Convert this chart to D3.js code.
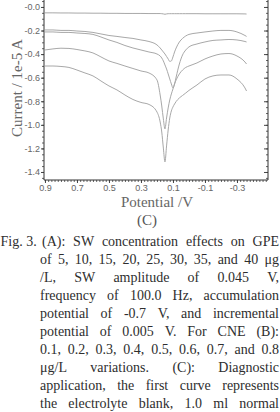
<!DOCTYPE html>
<html><head><meta charset="utf-8">
<script src="https://cdn.jsdelivr.net/npm/d3@7"></script>
<style>html,body{margin:0;padding:0;background:#fff;overflow:hidden}svg{display:block}</style>
</head><body>
<svg id="c" width="280" height="412"></svg>
<script>
// ---- data ----
const potential = [0.90,0.85,0.80,0.75,0.70,0.65,0.60,0.55,0.50,0.45,0.40,0.35,0.30,0.25,0.20,0.18,0.17,0.16,0.15,0.14,0.13,0.12,0.11,0.10,0.09,0.08,0.06,0.04,0.02,0.00,-0.05,-0.10,-0.15,-0.20,-0.25,-0.30,-0.35,-0.36];
const blank  = [-0.050,-0.050,-0.051,-0.051,-0.052,-0.052,-0.053,-0.053,-0.054,-0.054,-0.055,-0.055,-0.055,-0.056,-0.056,-0.056,-0.057,-0.059,-0.062,-0.059,-0.057,-0.057,-0.057,-0.057,-0.057,-0.057,-0.057,-0.057,-0.057,-0.057,-0.057,-0.058,-0.058,-0.058,-0.058,-0.058,-0.059,-0.060];
const sample1 = [-0.195,-0.195,-0.199,-0.199,-0.204,-0.208,-0.216,-0.229,-0.242,-0.250,-0.259,-0.267,-0.280,-0.293,-0.322,-0.348,-0.365,-0.382,-0.399,-0.420,-0.441,-0.462,-0.458,-0.424,-0.382,-0.348,-0.297,-0.267,-0.246,-0.233,-0.221,-0.212,-0.204,-0.199,-0.199,-0.212,-0.242,-0.250];
const sample2 = [-0.212,-0.212,-0.216,-0.216,-0.221,-0.225,-0.233,-0.255,-0.280,-0.301,-0.327,-0.348,-0.365,-0.382,-0.399,-0.416,-0.433,-0.458,-0.492,-0.526,-0.568,-0.611,-0.653,-0.687,-0.653,-0.594,-0.484,-0.407,-0.365,-0.339,-0.314,-0.297,-0.284,-0.280,-0.276,-0.280,-0.293,-0.297];
const sample3 = [-0.365,-0.356,-0.350,-0.352,-0.361,-0.373,-0.390,-0.424,-0.458,-0.479,-0.501,-0.522,-0.543,-0.560,-0.619,-0.747,-0.840,-0.950,-1.035,-0.942,-0.857,-0.789,-0.738,-0.696,-0.653,-0.619,-0.568,-0.535,-0.513,-0.501,-0.475,-0.441,-0.416,-0.399,-0.395,-0.416,-0.467,-0.484];
const sample4 = [-0.501,-0.501,-0.505,-0.513,-0.535,-0.560,-0.585,-0.628,-0.670,-0.704,-0.747,-0.785,-0.810,-0.827,-0.891,-0.976,-1.061,-1.197,-1.315,-1.179,-1.044,-0.942,-0.882,-0.848,-0.823,-0.802,-0.772,-0.751,-0.730,-0.708,-0.662,-0.611,-0.585,-0.577,-0.577,-0.611,-0.687,-0.713];
const xTicks = [0.9,0.7,0.5,0.3,0.1,-0.1,-0.3];
const xTickLabels = ["0.9","0.7","0.5","0.3","0.1","-0.1","-0.3"];
const yTicks = [0,-0.2,-0.4,-0.6,-0.8,-1.0,-1.2,-1.4];
const yTickLabels = ["-0.0","-0.2","-0.4","-0.6","-0.8","-1.0","-1.2","-1.4"];
const xTitle = "Potential /V";
const yTitle = "Current / 1e-5 A";
const panelLabel = "(C)";
const captionLead = "Fig. 3.";
const captionLines = [
  "(A): SW concentration effects on GPE",
  "of 5, 10, 15, 20, 25, 30, 35, and 40 μg",
  "/L, SW amplitude of 0.045 V,",
  "frequency of 100.0 Hz, accumulation",
  "potential of -0.7 V, and incremental",
  "potential of 0.005 V. For CNE (B):",
  "0.1, 0.2, 0.3, 0.4, 0.5, 0.6, 0.7, and 0.8",
  "μg/L variations. (C): Diagnostic",
  "application, the first curve represents",
  "the electrolyte blank, 1.0 ml normal"
];

// ---- chart ----
const svg = d3.select("#c");
const L = 44, R = 268, T = 0, B = 180;
const x = d3.scaleLinear().domain([0.906, -0.494]).range([L, R]);
const y = d3.scaleLinear().domain([0.059, -1.468]).range([T, B]);

const series = [blank, sample1, sample2, sample3, sample4];
const line = d3.line().x(d => x(d[0])).y(d => y(d[1])).curve(d3.curveMonotoneX);
svg.append("g").selectAll("path").data(series).join("path")
  .attr("d", s => line(potential.map((p, i) => [p, s[i]])))
  .attr("fill", "none").attr("stroke", "#a8a8a8").attr("stroke-width", 1);

// minor ticks
const minorX = d3.range(0.9, -0.495, -0.02);
svg.append("g").attr("transform", `translate(0,${B})`)
  .call(d3.axisBottom(x).tickValues(minorX).tickSize(2).tickFormat(""))
  .call(g => g.select(".domain").remove())
  .selectAll("line").attr("stroke", "#666");
const minorY = d3.range(0.05, -1.47, -0.05);
svg.append("g").attr("transform", `translate(${L},0)`)
  .call(d3.axisLeft(y).tickValues(minorY).tickSize(2).tickFormat(""))
  .call(g => g.select(".domain").remove())
  .selectAll("line").attr("stroke", "#666");
svg.append("g").attr("transform", `translate(${R},0)`)
  .call(d3.axisRight(y).tickValues(minorY).tickSize(-2).tickFormat(""))
  .call(g => g.select(".domain").remove())
  .selectAll("line").attr("stroke", "#666");
svg.append("g").attr("transform", `translate(${R},0)`)
  .call(d3.axisRight(y).tickValues(yTicks).tickSize(-4).tickFormat(""))
  .call(g => g.select(".domain").remove())
  .selectAll("line").attr("stroke", "#444");

// major axes
const xa = svg.append("g").attr("transform", `translate(0,${B})`)
  .call(d3.axisBottom(x).tickValues(xTicks).tickSize(3).tickPadding(2)
    .tickFormat((d, i) => xTickLabels[i]));
const ya = svg.append("g").attr("transform", `translate(${L},0)`)
  .call(d3.axisLeft(y).tickValues(yTicks).tickSize(3).tickPadding(1)
    .tickFormat((d, i) => yTickLabels[i]));
[xa, ya].forEach(g => {
  g.select(".domain").remove();
  g.selectAll("line").attr("stroke", "#444");
  g.selectAll("text").attr("font-family", "Liberation Sans, Arial, sans-serif")
    .attr("font-size", 9).attr("fill", "#666");
});
// frame
svg.append("path").attr("d", `M${L},${T}V${B}H${R}V${T}`)
  .attr("fill", "none").attr("stroke", "#333").attr("stroke-width", 1);

// titles
svg.append("text").attr("x", 157).attr("y", 207).attr("text-anchor", "middle")
  .attr("font-family", "Liberation Serif, serif").attr("font-size", 15).attr("fill", "#666")
  .text(xTitle);
svg.append("text").attr("transform", "translate(22,88) rotate(-90)").attr("text-anchor", "middle")
  .attr("font-family", "Liberation Serif, serif").attr("font-size", 15).attr("fill", "#666")
  .text(yTitle);
svg.append("text").attr("x", 147).attr("y", 225).attr("text-anchor", "middle")
  .attr("font-family", "Liberation Serif, serif").attr("font-size", 15).attr("fill", "#555")
  .text(panelLabel);

// caption (justified word by word, kept inside the window)
const cap = svg.append("g").attr("font-family", "Liberation Serif, serif")
  .attr("font-size", 14).attr("fill", "#2e2e2e");
const base0 = 246, lineStep = 17.95;
cap.append("text").attr("x", 0.5).attr("y", base0).text(captionLead);
captionLines.forEach((ln, i) => {
  const yb = base0 + lineStep * i;
  const left = i === 0 ? 42 : 40;
  const right = 279;
  const words = ln.split(" ");
  const els = words.map(w => cap.append("text").attr("y", yb).text(w));
  const widths = els.map(e => e.node().getComputedTextLength());
  const total = d3.sum(widths);
  const gap = words.length > 1 ? Math.max(3, (right - left - total) / (words.length - 1)) : 0;
  let cx = left;
  els.forEach((e, j) => { e.attr("x", cx); cx += widths[j] + gap; });
});
</script>
</body></html>
